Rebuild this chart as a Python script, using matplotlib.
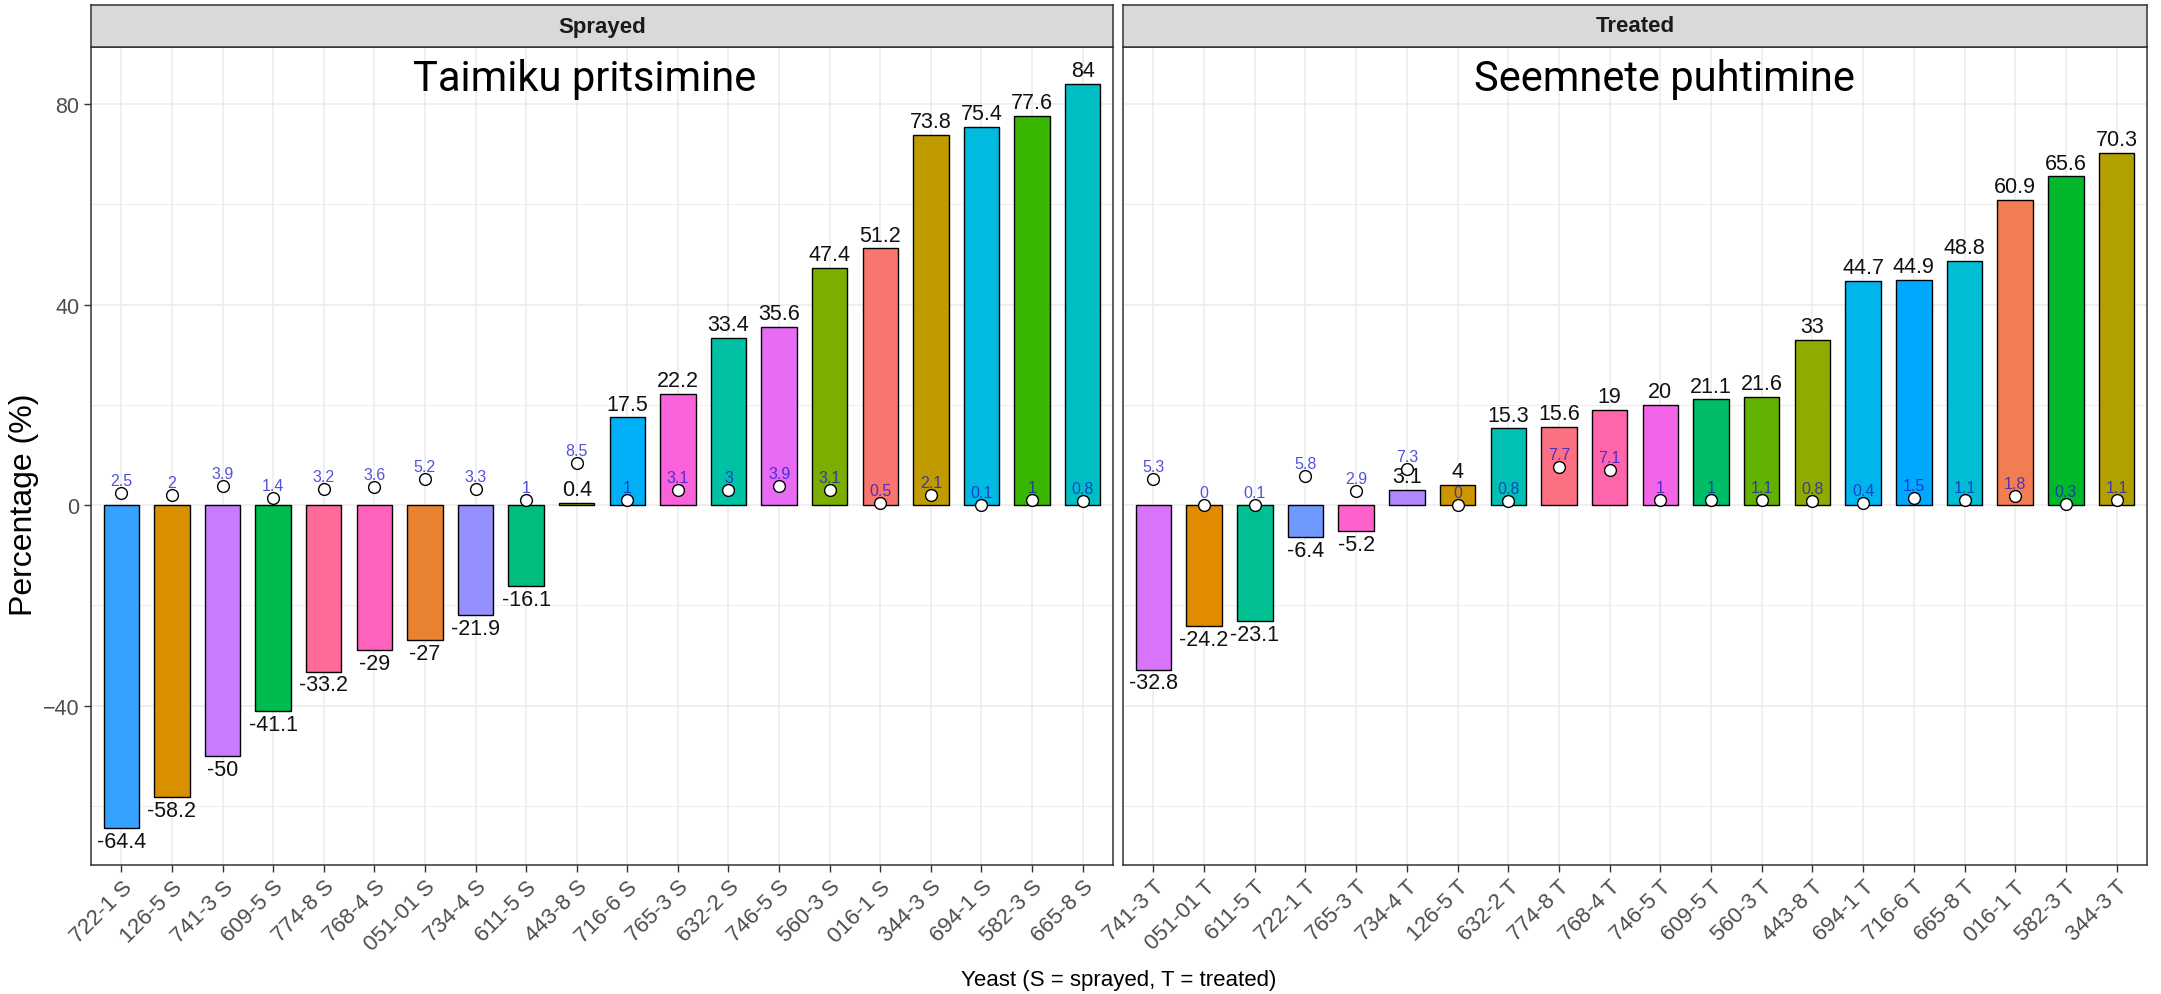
import numpy as np
import matplotlib
matplotlib.use("Agg")
import matplotlib.pyplot as plt

plt.rcParams['font.family'] = ['Liberation Sans', 'DejaVu Sans']

# Andmed: protsendid ja väikesed väärtused (punktid) iga pärmi kohta
sprayed_yeast = ["722-1 S", "126-5 S", "741-3 S", "609-5 S", "774-8 S", "768-4 S", "051-01 S",
                 "734-4 S", "611-5 S", "443-8 S", "716-6 S", "765-3 S", "632-2 S", "746-5 S",
                 "560-3 S", "016-1 S", "344-3 S", "694-1 S", "582-3 S", "665-8 S"]
sprayed_pct = [-64.4, -58.2, -50, -41.1, -33.2, -29, -27, -21.9, -16.1, 0.4,
               17.5, 22.2, 33.4, 35.6, 47.4, 51.2, 73.8, 75.4, 77.6, 84]
sprayed_sd = [2.5, 2, 3.9, 1.4, 3.2, 3.6, 5.2, 3.3, 1, 8.5,
              1, 3.1, 3, 3.9, 3.1, 0.5, 2.1, 0.1, 1, 0.8]

treated_yeast = ["741-3 T", "051-01 T", "611-5 T", "722-1 T", "765-3 T", "734-4 T", "126-5 T",
                 "632-2 T", "774-8 T", "768-4 T", "746-5 T", "609-5 T", "560-3 T", "443-8 T",
                 "694-1 T", "716-6 T", "665-8 T", "016-1 T", "582-3 T", "344-3 T"]
treated_pct = [-32.8, -24.2, -23.1, -6.4, -5.2, 3.1, 4, 15.3, 15.6, 19,
               20, 21.1, 21.6, 33, 44.7, 44.9, 48.8, 60.9, 65.6, 70.3]
treated_sd = [5.3, 0, 0.1, 5.8, 2.9, 7.3, 0, 0.8, 7.7, 7.1,
              1, 1, 1.1, 0.8, 0.4, 1.5, 1.1, 1.8, 0.3, 1.1]

panel_names = ["Sprayed", "Treated"]
panel_titles = ["Taimiku pritsimine", "Seemnete puhtimine"]


# ggploti vaikimisi värvipalett (hue_pal), HCL -> sRGB
def hue_pal(n, c=100.0, l=65.0):
    hues = np.linspace(15, 375, n + 1)[:n]
    xn, yn, zn = 95.047, 100.0, 108.883
    un = 4 * xn / (xn + 15 * yn + 3 * zn)
    vn = 9 * yn / (xn + 15 * yn + 3 * zn)
    out = []
    for h in hues:
        U = c * np.cos(np.radians(h))
        V = c * np.sin(np.radians(h))
        Y = yn * ((l + 16) / 116) ** 3
        u = U / (13 * l) + un
        v = V / (13 * l) + vn
        X = 9.0 * Y * u / (4 * v)
        Z = -X / 3 - 5 * Y + 3 * Y / v
        rgb = [(3.240479 * X - 1.537150 * Y - 0.498535 * Z) / yn,
               (-0.969256 * X + 1.875992 * Y + 0.041556 * Z) / yn,
               (0.055648 * X - 0.204043 * Y + 1.057311 * Z) / yn]
        rgb = [1.055 * t ** (1 / 2.4) - 0.055 if t > 0.00304 else 12.92 * t for t in rgb]
        rgb = [min(max(t, 0), 1) for t in rgb]
        out.append('#%02X%02X%02X' % tuple(int(round(255 * t)) for t in rgb))
    return out


levels = sorted(sprayed_yeast + treated_yeast)
colmap = dict(zip(levels, hue_pal(len(levels))))

fig = plt.figure(figsize=(21.61, 9.95), dpi=100)

W, H = 2161, 995
panel_bottom = 1 - 866 / H
panel_h = (866 - 48) / H
strip_h = (48 - 6) / H
lefts = [91 / W, 1123 / W]
widths = [(1113 - 91) / W, (2147 - 1123) / W]
title_x = [0.483, 0.529]

data = [(sprayed_yeast, sprayed_pct, sprayed_sd), (treated_yeast, treated_pct, treated_sd)]

for i, (names, vals, sds) in enumerate(data):
    ax = fig.add_axes([lefts[i], panel_bottom, widths[i], panel_h])
    x = np.arange(len(names))

    ax.bar(x, vals, width=0.7, color=[colmap[n] for n in names],
           edgecolor='black', linewidth=1.0, zorder=3)
    for xi, v in zip(x, vals):
        ax.annotate(f"{v:g}", (xi, v), xytext=(0, 2 if v >= 0 else -2),
                    textcoords='offset points', ha='center',
                    va='bottom' if v >= 0 else 'top', fontsize=15.5, color='#111111', zorder=5)
    ax.scatter(x, sds, s=72, facecolor='white', edgecolor='black', linewidth=1.0, zorder=6)
    for xi, s in zip(x, sds):
        ax.annotate(f"{s:g}", (xi, s), xytext=(0, 9), textcoords='offset points',
                    ha='center', va='center', fontsize=11.5, color='#1a1acc', alpha=0.75, zorder=7)

    ax.text(title_x[i], 0.961, panel_titles[i], transform=ax.transAxes, ha='center',
            va='center', fontsize=30, family=['Roboto', 'DejaVu Sans'], zorder=8)

    ax.set_xlim(-0.6, len(names) - 0.4)
    ax.set_ylim(-71.8, 91.4)
    ax.set_yticks([-40, 0, 40, 80])
    ax.set_yticks([-60, -20, 20, 60], minor=True)
    ax.set_xticks(x)
    ax.set_xticklabels(names, rotation=45, ha='right', rotation_mode='anchor')
    ax.grid(True, which='major', color='#EBEBEB', linewidth=1.1, zorder=0)
    ax.grid(True, which='minor', axis='y', color='#EBEBEB', linewidth=0.6, zorder=0)
    ax.set_axisbelow(True)
    ax.tick_params(axis='both', which='major', length=5, width=1, color='#333333',
                   labelcolor='#4D4D4D', labelsize=15.5)
    ax.tick_params(axis='x', labelsize=16, pad=3)
    ax.tick_params(axis='y', which='minor', length=0)
    for sp in ax.spines.values():
        sp.set_color('#333333')
        sp.set_linewidth(1.1)
    if i == 1:
        ax.tick_params(axis='y', left=False, labelleft=False)

    sax = fig.add_axes([lefts[i], panel_bottom + panel_h, widths[i], strip_h])
    sax.set_facecolor('#D9D9D9')
    sax.set_xticks([])
    sax.set_yticks([])
    for sp in sax.spines.values():
        sp.set_color('#333333')
        sp.set_linewidth(1.1)
    sax.text(0.5, 0.5, panel_names[i], transform=sax.transAxes, ha='center', va='center',
             fontsize=16, fontweight='bold', color='#1A1A1A')

fig.text(24 / W, 1 - 505 / H, "Percentage (%)", rotation=90, ha='center', va='center',
         fontsize=23, color='black')
fig.text((91 + 2147) / 2 / W, 1 - 981 / H, "Yeast (S = sprayed, T = treated)",
         ha='center', va='center', fontsize=16, color='black')

fig.savefig("out.png", dpi=100)
